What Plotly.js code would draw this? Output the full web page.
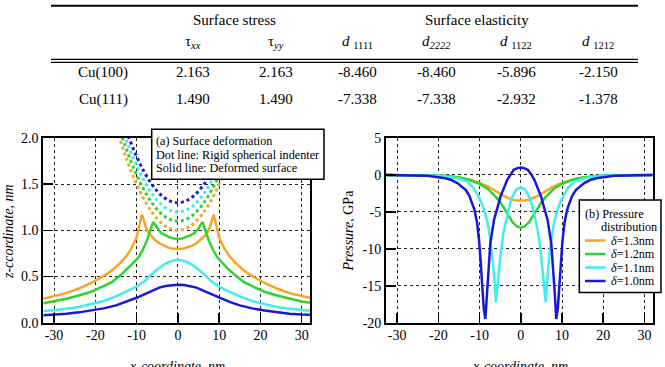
<!DOCTYPE html>
<html>
<head>
<meta charset="utf-8">
<script src="https://cdn.plot.ly/plotly-3.0.1.min.js"></script>
<style>
  html, body { margin: 0; padding: 0; background: #fff; }
  #fig { width: 665px; height: 367px; }
</style>
</head>
<body>
<div id="fig"></div>
<script>
// ---------- Table: surface stress and surface elasticity of Cu ----------
const materials = ['Cu(100)', 'Cu(111)'];
const tauXX = [2.163, 1.490];
const tauYY = [2.163, 1.490];
const d1111 = [-8.460, -7.338];
const d2222 = [-8.460, -7.338];
const d1122 = [-5.896, -2.932];
const d1212 = [-2.150, -1.378];
const groupHeaders = ['Surface stress', 'Surface elasticity'];
const columnHeaders = [
  'τ<sub><i>xx</i></sub>', 'τ<sub><i>yy</i></sub>',
  '<i>d</i> <sub>1111</sub>', '<i>d</i><sub><i>2222</i></sub>',
  '<i>d</i> <sub>1122</sub>', '<i>d</i> <sub>1212</sub>'
];

// ---------- (a) Surface deformation ----------
// indentation depths and their colours
const deltaNames = ['<i>δ</i>=1.3nm', '<i>δ</i>=1.2nm', '<i>δ</i>=1.1nm', '<i>δ</i>=1.0nm'];
const seriesColors = ['#F6A623', '#2ED42E', '#40EEEE', '#1818D6'];

// rigid spherical indenter profiles (dotted)
const xIndenter = [-16, -14, -12, -10, -8, -6, -4, -2, 0, 2, 4, 6, 8, 10, 12, 14, 16];
const zIndenter13 = [2.28, 1.98, 1.72, 1.50, 1.32, 1.18, 1.08, 1.02, 1.00, 1.02, 1.08, 1.18, 1.32, 1.50, 1.72, 1.98, 2.28];
const zIndenter12 = [2.38, 2.08, 1.82, 1.60, 1.42, 1.28, 1.18, 1.12, 1.10, 1.12, 1.18, 1.28, 1.42, 1.60, 1.82, 2.08, 2.38];
const zIndenter11 = [2.48, 2.18, 1.92, 1.70, 1.52, 1.38, 1.28, 1.22, 1.20, 1.22, 1.28, 1.38, 1.52, 1.70, 1.92, 2.18, 2.48];
const zIndenter10 = [2.58, 2.28, 2.02, 1.80, 1.62, 1.48, 1.38, 1.32, 1.30, 1.32, 1.38, 1.48, 1.62, 1.80, 2.02, 2.28, 2.58];

// deformed surface profiles (solid)
const xSurf13 = [-32.6, -30, -27, -24, -21, -18, -16, -14, -12.5, -11.5, -10.5, -10, -9.5, -9, -8.7, -8.3, -7.8, -7.2, -6.5, -5.5, -4.5, -3.5, -2.5, -1.5, 0,
                 1.5, 2.5, 3.5, 4.5, 5.5, 6.5, 7.2, 7.8, 8.3, 8.7, 9, 9.5, 10, 10.5, 11.5, 12.5, 14, 16, 18, 21, 24, 27, 30, 32];
const zSurf13 = [0.26, 0.285, 0.32, 0.37, 0.43, 0.505, 0.565, 0.645, 0.72, 0.785, 0.87, 0.925, 1.02, 1.11, 1.17, 1.12, 1.04, 0.98, 0.94, 0.895, 0.86, 0.835, 0.815, 0.803, 0.797,
                 0.803, 0.815, 0.835, 0.86, 0.895, 0.94, 0.98, 1.04, 1.12, 1.17, 1.11, 1.02, 0.925, 0.87, 0.785, 0.72, 0.645, 0.565, 0.505, 0.43, 0.37, 0.32, 0.285, 0.27];
const xSurf12 = [-32.6, -30, -27, -24, -21, -18, -16, -14, -12, -10.5, -9.5, -8.5, -7.5, -7, -6.5, -6, -5.5, -5, -4.5, -4, -3, -2, -1, 0,
                 1, 2, 3, 4, 4.5, 5, 5.5, 6, 6.5, 7, 7.5, 8.5, 9.5, 10.5, 12, 14, 16, 18, 21, 24, 27, 30, 32];
const zSurf12 = [0.21, 0.23, 0.26, 0.295, 0.335, 0.395, 0.44, 0.51, 0.59, 0.66, 0.71, 0.79, 0.89, 0.95, 1.02, 1.09, 1.06, 1.02, 0.995, 0.97, 0.945, 0.925, 0.912, 0.906,
                 0.912, 0.925, 0.945, 0.97, 0.995, 1.02, 1.06, 1.09, 1.02, 0.95, 0.89, 0.79, 0.71, 0.66, 0.59, 0.51, 0.44, 0.395, 0.335, 0.295, 0.26, 0.23, 0.215];
const xSurf11 = [-32.6, -30, -27, -24, -21, -18, -15, -12.5, -10, -8, -6.5, -5, -4, -3, -2, -1, 0,
                 1, 2, 3, 4, 5, 6.5, 8, 10, 12.5, 15, 18, 21, 24, 27, 30, 32];
const zSurf11 = [0.125, 0.135, 0.15, 0.17, 0.2, 0.235, 0.285, 0.335, 0.39, 0.45, 0.52, 0.575, 0.61, 0.64, 0.66, 0.675, 0.68,
                 0.675, 0.66, 0.64, 0.61, 0.575, 0.52, 0.45, 0.39, 0.335, 0.285, 0.235, 0.2, 0.17, 0.15, 0.135, 0.128];
const xSurf10 = [-32.6, -30, -27, -24, -21, -18, -15, -12.5, -10, -8, -6, -4.5, -3, -1.5, 0,
                 1.5, 3, 4.5, 6, 8, 10, 12.5, 15, 18, 21, 24, 27, 30, 32];
const zSurf10 = [0.082, 0.088, 0.098, 0.112, 0.132, 0.155, 0.188, 0.225, 0.27, 0.31, 0.35, 0.38, 0.398, 0.408, 0.41,
                 0.408, 0.398, 0.38, 0.35, 0.31, 0.27, 0.225, 0.188, 0.155, 0.132, 0.112, 0.098, 0.088, 0.085];

// ---------- (b) Pressure distribution ----------
const xPres13 = [-32.7, -26, -23, -20, -17.5, -15, -12.5, -10, -8, -7, -6, -5, -4, -3, -2, -1, 0,
                 1, 2, 3, 4, 5, 6, 7, 8, 10, 12.5, 15, 17.5, 20, 23, 26, 32];
const pPres13 = [0, -0.01, -0.03, -0.09, -0.18, -0.36, -0.65, -1.08, -1.55, -1.85, -2.2, -2.55, -2.88, -3.15, -3.35, -3.45, -3.5,
                 -3.45, -3.35, -3.15, -2.88, -2.55, -2.2, -1.85, -1.55, -1.08, -0.65, -0.36, -0.18, -0.09, -0.03, -0.01, 0];
const xPres12 = [-32.7, -26, -23, -20, -17.5, -15, -12.5, -10, -8, -7, -6, -5, -4, -3, -2, -1, 0,
                 1, 2, 3, 4, 5, 6, 7, 8, 10, 12.5, 15, 17.5, 20, 23, 26, 32];
const pPres12 = [0, -0.01, -0.03, -0.09, -0.18, -0.36, -0.65, -1.2, -1.9, -2.4, -3.0, -3.7, -4.5, -5.5, -6.4, -6.95, -7.15,
                 -6.95, -6.4, -5.5, -4.5, -3.7, -3.0, -2.4, -1.9, -1.2, -0.65, -0.36, -0.18, -0.09, -0.03, -0.01, 0];
const xPres11 = [-32.7, -28, -24, -19.5, -15.4, -13, -11.4, -9.8, -9, -8.2, -7.5, -7, -6.6, -6.3, -6.05, -5.7, -5.3, -4.8, -4.1, -3.3, -2.5, -2, -1, 0,
                 1, 2, 2.5, 3.3, 4.1, 4.8, 5.3, 5.7, 6.05, 6.3, 6.6, 7, 7.5, 8.2, 9, 9.8, 11.4, 13, 15.4, 19.5, 24, 28, 32];
const pPres11 = [0, -0.01, -0.03, -0.12, -0.45, -0.9, -1.8, -3.4, -4.6, -6.1, -8.3, -10.5, -12.8, -15, -17.2, -15.3, -12.9, -10.2, -7.5, -5.4, -3.6, -2.9, -1.9, -1.7,
                 -1.9, -2.9, -3.6, -5.4, -7.5, -10.2, -12.9, -15.3, -17.2, -15, -12.8, -10.5, -8.3, -6.1, -4.6, -3.4, -1.8, -0.9, -0.45, -0.12, -0.03, -0.01, 0];
const xPres10 = [-32.7, -27, -22.7, -18.7, -17, -15.4, -13.4, -12.5, -11.8, -11.2, -10.6, -10.1, -9.7, -9.3, -9.0, -8.6, -8.3, -7.9, -7.4, -6.5, -4.9, -3.3, -2.5, -1.7, -0.8, 0,
                 0.8, 1.7, 2.5, 3.3, 4.9, 6.5, 7.4, 7.9, 8.3, 8.6, 9.0, 9.3, 9.7, 10.1, 10.6, 11.2, 11.8, 12.5, 13.4, 15.4, 17, 18.7, 22.7, 27, 32];
const pPres10 = [0, -0.02, -0.1, -0.4, -0.65, -1.1, -2.0, -2.8, -3.8, -4.8, -6.5, -9.0, -12.0, -15.5, -18.0, -19.5, -16.5, -12.9, -9.3, -6.1, -2.9, -0.67, 0.1, 0.7, 0.92, 1.0,
                 0.92, 0.7, 0.1, -0.67, -2.9, -6.1, -9.3, -12.9, -16.5, -19.5, -18.0, -15.5, -12.0, -9.0, -6.5, -4.8, -3.8, -2.8, -2.0, -1.1, -0.65, -0.4, -0.1, -0.02, 0];

// tick labels
const xTickVals = [-30, -20, -10, 0, 10, 20, 30];
const xTickText = ['-30', '-20', '-10', '0', '10', '20', '30'];
const zTickVals = [0, 0.5, 1.0, 1.5, 2.0];
const zTickText = ['0.0', '0.5', '1.0', '1.5', '2.0'];
const pTickVals = [-20, -15, -10, -5, 0, 5];
const pTickText = ['-20', '-15', '-10', '-5', '0', '5'];

// ---------- drawing ----------
const W = 665, H = 367;
const SERIF = 'Liberation Serif';
const px = v => v / W;
const py = v => 1 - v / H;

const indenterZ = [zIndenter13, zIndenter12, zIndenter11, zIndenter10];
const surfX = [xSurf13, xSurf12, xSurf11, xSurf10];
const surfZ = [zSurf13, zSurf12, zSurf11, zSurf10];
const presX = [xPres13, xPres12, xPres11, xPres10];
const presP = [pPres13, pPres12, pPres11, pPres10];

const traces = [];
indenterZ.forEach((z, i) => traces.push({
  x: xIndenter, y: z, xaxis: 'x', yaxis: 'y', mode: 'lines',
  line: { color: seriesColors[i], width: 3, dash: 'dot', shape: 'spline' },
  hoverinfo: 'skip', showlegend: false
}));
surfZ.forEach((z, i) => traces.push({
  x: surfX[i], y: z, xaxis: 'x', yaxis: 'y', mode: 'lines',
  line: { color: seriesColors[i], width: 2.5 }, showlegend: false
}));
presP.forEach((p, i) => traces.push({
  x: presX[i], y: p, xaxis: 'x2', yaxis: 'y2', mode: 'lines',
  line: { color: seriesColors[i], width: 2.5 }, name: deltaNames[i], showlegend: false
}));

function axisStyle(extra) {
  return Object.assign({
    showline: true, linewidth: 2, linecolor: '#000', mirror: true,
    ticks: 'inside', ticklen: 10, tickwidth: 1.5, tickcolor: '#000',
    showgrid: true, gridcolor: '#222', griddash: 'dot', gridwidth: 1,
    zeroline: false, fixedrange: true,
    tickfont: { family: SERIF, size: 14, color: '#000' }
  }, extra);
}

const plotTop = 138, plotBottom = 322.7;
const yDomain = [py(plotBottom), py(plotTop)];

const shapes = [];
const annotations = [];
const txt = (text, x, y, opts) => annotations.push(Object.assign({
  text: text, x: px(x), y: py(y), xref: 'paper', yref: 'paper',
  showarrow: false, xanchor: 'center', yanchor: 'middle',
  font: { family: SERIF, size: 15, color: '#000' }
}, opts || {}));
const hline = (x0, x1, y, w) => shapes.push({
  type: 'line', xref: 'paper', yref: 'paper', x0: px(x0), x1: px(x1), y0: py(y), y1: py(y),
  line: { color: '#000', width: w }
});

// table rules
hline(51, 638, 5.7, 2);
hline(51, 638, 59.3, 1.2);
hline(51, 638, 62.3, 1.2);

// table text
const groupCentres = [234, 477];
groupHeaders.forEach((g, i) => txt(g, groupCentres[i], 20.5));
const colCentres = [193, 276, 357, 436, 516, 598];
columnHeaders.forEach((c, i) => txt(c, colCentres[i], 42.5));
const rowY = [72, 99];
const columns = [tauXX, tauYY, d1111, d2222, d1122, d1212];
materials.forEach((m, r) => {
  txt(m, 103, rowY[r]);
  columns.forEach((col, c) => txt(col[r].toFixed(3), colCentres[c], rowY[r]));
});

// (a) description box
const smallFont = { family: SERIF, size: 12.2, color: '#000' };
shapes.push({ type: 'rect', xref: 'paper', yref: 'paper', layer: 'above',
  x0: px(151.7), x1: px(324), y0: py(179.3), y1: py(129.3),
  fillcolor: '#fff', line: { color: '#000', width: 1.5 } });
['(a) Surface deformation', 'Dot line: Rigid spherical indenter', 'Solid line: Deformed surface']
  .forEach((t, i) => txt(t, 153.5, [141, 154.7, 168.4][i], { xanchor: 'left', font: smallFont }));

// (b) legend box
shapes.push({ type: 'rect', xref: 'paper', yref: 'paper', layer: 'above',
  x0: px(579.3), x1: px(661), y0: py(292.5), y1: py(200),
  fillcolor: '#fff', line: { color: '#000', width: 1.5 } });
txt('(b) Pressure', 582.5, 213.5, { xanchor: 'left', font: smallFont });
txt('distribution', 599, 227, { xanchor: 'left', font: smallFont });
const legendRows = [240.5, 254, 267.5, 281];
deltaNames.forEach((n, i) => {
  shapes.push({ type: 'line', xref: 'paper', yref: 'paper', layer: 'above',
    x0: px(585), x1: px(605.5), y0: py(legendRows[i]), y1: py(legendRows[i]),
    line: { color: seriesColors[i], width: 2.5 } });
  txt(n, 609, legendRows[i], { xanchor: 'left', font: smallFont });
});

// axis titles
const titleFont = { family: SERIF, size: 14, color: '#000' };
txt('<i>z-ccordinate, nm</i>', 8, 232, { textangle: -90, font: titleFont });
txt('<i>Pressure</i>, GPa', 347.5, 231, { textangle: -90, font: titleFont });
txt('<i>x-coordinate, nm</i>', 177, 357, { yanchor: 'top', font: titleFont });
txt('<i>x-coordinate, nm</i>', 520, 357, { yanchor: 'top', font: titleFont });

const layout = {
  width: W, height: H,
  margin: { l: 0, r: 0, t: 0, b: 0, pad: 0 },
  paper_bgcolor: '#fff', plot_bgcolor: '#fff',
  showlegend: false,
  font: { family: SERIF, color: '#000' },
  xaxis: axisStyle({ domain: [px(43.3), px(310)], range: [-32.6, 32], anchor: 'y',
    tickmode: 'array', tickvals: xTickVals, ticktext: xTickText, ticklabelstandoff: -2 }),
  yaxis: axisStyle({ domain: yDomain, range: [0, 2], anchor: 'x',
    tickmode: 'array', tickvals: zTickVals, ticktext: zTickText }),
  xaxis2: axisStyle({ domain: [px(386), px(652.7)], range: [-32.7, 32], anchor: 'y2',
    tickmode: 'array', tickvals: xTickVals, ticktext: xTickText, ticklabelstandoff: -2 }),
  yaxis2: axisStyle({ domain: yDomain, range: [-20, 5], anchor: 'x2',
    tickmode: 'array', tickvals: pTickVals, ticktext: pTickText }),
  shapes: shapes,
  annotations: annotations
};

Plotly.newPlot('fig', traces, layout, { staticPlot: true, displayModeBar: false });
</script>
</body>
</html>
